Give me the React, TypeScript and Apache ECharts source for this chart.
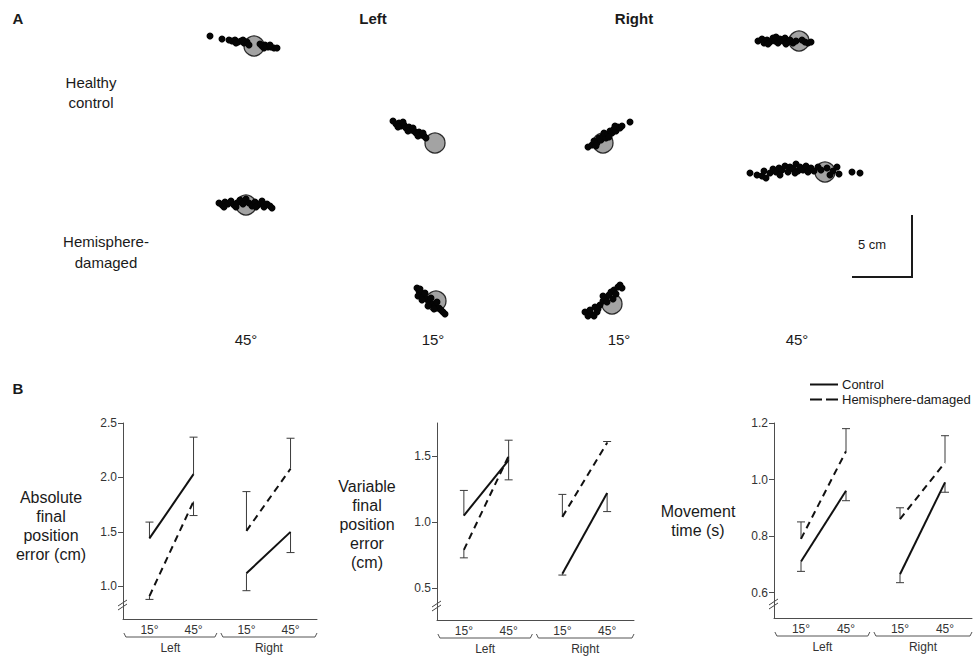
import React, { useEffect, useRef } from "react";
import * as echarts from "echarts";

const FONT = "'Liberation Sans', Arial, Helvetica, sans-serif";
const INK = "#1a1a1a";
const AXIS = "#4d4d4d";

// ---------- Panel A: reach end points (page-pixel frame) ----------
const targetCentres = [
  [254, 46], [435, 143], [603, 143], [799, 41],
  [825, 172], [246, 205], [436, 301], [612, 304],
];
const healthyLeft45 = [
  [210, 36], [222, 39], [229, 40], [232, 41], [235, 40], [238, 42], [241, 41],
  [244, 43], [247, 42], [236, 43], [243, 40], [249, 45], [262, 46], [265, 45],
  [268, 47], [271, 47], [274, 48], [277, 48], [264, 48], [270, 45], [260, 44],
];
const healthyLeft15 = [
  [393, 121], [396, 124], [399, 123], [401, 126], [404, 125], [406, 128], [409, 127],
  [411, 130], [414, 131], [416, 133], [419, 132], [421, 135], [424, 136], [426, 138],
  [403, 122], [408, 131], [413, 128], [418, 136], [423, 133], [398, 127],
];
const healthyRight15 = [
  [588, 147], [592, 145], [594, 141], [597, 143], [599, 138], [601, 140], [603, 136],
  [606, 138], [604, 133], [608, 134], [610, 131], [612, 133], [614, 129], [616, 131],
  [618, 127], [620, 128], [622, 126], [596, 146], [609, 137], [615, 126], [630, 122],
];
const healthyRight45 = [
  [758, 41], [762, 39], [764, 43], [767, 40], [770, 42], [773, 38], [775, 41],
  [778, 43], [780, 39], [783, 41], [785, 38], [788, 42], [790, 40], [793, 43],
  [796, 41], [802, 40], [805, 42], [808, 43], [811, 42], [768, 44], [776, 37], [786, 44],
];
const damagedRight45 = [
  [750, 173], [757, 175], [762, 176], [764, 171], [770, 173], [773, 169], [776, 172],
  [779, 168], [782, 170], [785, 166], [788, 172], [790, 167], [793, 169], [796, 164],
  [798, 171], [800, 167], [803, 170], [806, 166], [808, 172], [811, 168], [814, 171],
  [818, 167], [821, 170], [827, 168], [830, 175], [833, 171], [837, 167], [839, 174],
  [852, 172], [860, 173], [766, 178], [780, 175], [795, 173],
];
const damagedLeft45 = [
  [219, 203], [222, 205], [225, 202], [228, 204], [231, 201], [234, 205], [237, 203],
  [240, 200], [243, 204], [246, 199], [249, 203], [252, 206], [255, 202], [258, 205],
  [261, 203], [264, 207], [267, 204], [270, 206], [272, 208], [224, 207], [236, 207],
  [256, 207], [262, 201],
];
const damagedLeft15 = [
  [417, 288], [419, 291], [421, 294], [418, 296], [423, 297], [425, 293], [427, 299],
  [429, 302], [431, 298], [433, 304], [435, 306], [437, 302], [439, 308], [441, 310],
  [443, 312], [445, 314], [422, 300], [428, 306], [434, 309], [420, 289],
];
const damagedRight15 = [
  [585, 312], [588, 316], [591, 314], [594, 316], [597, 312], [590, 310], [595, 307],
  [600, 305], [603, 301], [606, 298], [609, 295], [603, 296], [611, 292], [614, 290],
  [616, 294], [618, 287], [620, 285], [622, 288], [613, 299], [607, 302], [598, 309],
];

// ---------- Panel B: group means and error-bar ends ----------
const conditionLabels = ["15°", "45°", "15°", "45°"];
const conditionPos = [0.6, 1.6, 2.8, 3.8];
const sideLabels = ["Left", "Right"];

const absControl = [1.44, 2.03, 1.12, 1.5];
const absControlErr = [1.59, 2.37, 0.96, 1.31];
const absDamaged = [0.91, 1.78, 1.51, 2.08];
const absDamagedErr = [0.88, 1.65, 1.87, 2.36];
const absTicks = [1.0, 1.5, 2.0, 2.5];

const varControl = [1.05, 1.47, 0.61, 1.22];
const varControlErr = [1.24, 1.62, 0.6, 1.08];
const varDamaged = [0.79, 1.5, 1.04, 1.6];
const varDamagedErr = [0.73, 1.32, 1.21, 1.61];
const varTicks = [0.5, 1.0, 1.5];

const mtControl = [0.71, 0.96, 0.665, 0.99];
const mtControlErr = [0.675, 0.925, 0.635, 0.955];
const mtDamaged = [0.79, 1.1, 0.86, 1.06];
const mtDamagedErr = [0.85, 1.18, 0.9, 1.155];
const mtTicks = [0.6, 0.8, 1.0, 1.2];

const X_MAX = 4.4;

const panels = [
  {
    left: 123, top: 423, width: 194, height: 196, min: 0.7, max: 2.5, ticks: absTicks,
    name: "Absolute\nfinal\nposition\nerror (cm)", nameX: 51, nameY: 526,
    control: absControl, controlErr: absControlErr, damaged: absDamaged, damagedErr: absDamagedErr,
  },
  {
    left: 437, top: 423, width: 197, height: 197, min: 0.26, max: 1.75, ticks: varTicks,
    name: "Variable\nfinal\nposition\nerror\n(cm)", nameX: 367, nameY: 524,
    control: varControl, controlErr: varControlErr, damaged: varDamaged, damagedErr: varDamagedErr,
  },
  {
    left: 774, top: 423, width: 198, height: 195, min: 0.51, max: 1.2, ticks: mtTicks,
    name: "Movement\ntime (s)", nameX: 698, nameY: 521,
    control: mtControl, controlErr: mtControlErr, damaged: mtDamaged, damagedErr: mtDamagedErr,
  },
];

function labelFor(v: number): string {
  for (let i = 0; i < conditionPos.length; i++) {
    if (Math.abs(conditionPos[i] - v) < 1e-6) return conditionLabels[i];
  }
  return "";
}

function text(x: number, y: number, t: string, size: number, opts: any = {}) {
  return {
    type: "text",
    x,
    y,
    silent: true,
    style: {
      text: t,
      fill: opts.fill || INK,
      fontSize: size,
      fontFamily: FONT,
      fontWeight: opts.bold ? "bold" : "normal",
      align: opts.align || "center",
      verticalAlign: "middle",
      lineHeight: opts.lineHeight || size + 4,
    },
  };
}

function line(x1: number, y1: number, x2: number, y2: number, w = 1, c = AXIS) {
  return {
    type: "line",
    silent: true,
    shape: { x1, y1, x2, y2 },
    style: { stroke: c, lineWidth: w },
  };
}

function errorBarRender(params: any, api: any) {
  const x = api.value(0);
  const v = api.value(1);
  const e = api.value(2);
  const p0 = api.coord([x, v]);
  const p1 = api.coord([x, e]);
  const st = { stroke: "#3a3a3a", lineWidth: 1 };
  return {
    type: "group",
    children: [
      { type: "line", shape: { x1: p0[0], y1: p0[1], x2: p1[0], y2: p1[1] }, style: st },
      { type: "line", shape: { x1: p1[0] - 4, y1: p1[1], x2: p1[0] + 4, y2: p1[1] }, style: st },
    ],
  };
}

const SOLID_ICON = "path://M0,0H28V2H0Z";
const DASH_ICON = "path://M0,0H12V2H0Z M16,0H28V2H16Z";

function buildOption() {
  const grids: any[] = [
    { left: 0, top: 0, width: 974, height: 660, outerBoundsMode: "none", containLabel: false },
  ];
  const xAxes: any[] = [
    { gridIndex: 0, type: "value", min: 0, max: 974, show: false },
  ];
  const yAxes: any[] = [
    { gridIndex: 0, type: "value", min: 0, max: 660, inverse: true, show: false },
  ];
  const series: any[] = [
    {
      type: "scatter",
      xAxisIndex: 0,
      yAxisIndex: 0,
      data: targetCentres,
      symbolSize: 20,
      itemStyle: { color: "#a3a3a3", borderColor: "#2b2b2b", borderWidth: 1.3, opacity: 1 },
      z: 2,
      silent: true,
    },
    {
      type: "scatter",
      xAxisIndex: 0,
      yAxisIndex: 0,
      data: [
        ...healthyLeft45, ...healthyLeft15, ...healthyRight15, ...healthyRight45,
        ...damagedRight45, ...damagedLeft45, ...damagedLeft15, ...damagedRight15,
      ],
      symbolSize: 7,
      itemStyle: { color: "#050505", opacity: 1 },
      z: 3,
      silent: true,
    },
  ];

  const graphic: any[] = [
    text(18, 18, "A", 15, { bold: true }),
    text(373, 18, "Left", 15, { bold: true }),
    text(634, 18, "Right", 15, { bold: true }),
    text(91, 92, "Healthy\ncontrol", 15, { lineHeight: 20 }),
    text(106, 252, "Hemisphere-\ndamaged", 15, { lineHeight: 21 }),
    text(246, 339, "45°", 15),
    text(433, 339, "15°", 15),
    text(619, 339, "15°", 15),
    text(797, 339, "45°", 15),
    text(872, 244, "5 cm", 13),
    {
      type: "polyline",
      silent: true,
      shape: { points: [[912, 215], [912, 277], [852, 277]] },
      style: { stroke: "#1a1a1a", lineWidth: 2, fill: null },
    },
    text(18, 388, "B", 15, { bold: true }),
  ];

  panels.forEach((p, i) => {
    const gi = i + 1;
    grids.push({
      left: p.left, top: p.top, width: p.width, height: p.height,
      outerBoundsMode: "none", containLabel: false,
    });
    xAxes.push({
      gridIndex: gi,
      type: "value",
      min: 0,
      max: X_MAX,
      axisLine: { show: true, lineStyle: { color: AXIS, width: 1 } },
      axisTick: { show: false },
      splitLine: { show: false },
      axisLabel: {
        show: true,
        customValues: conditionPos,
        formatter: (v: number) => labelFor(v),
        color: "#333",
        fontSize: 12,
        fontFamily: FONT,
        margin: 5,
      },
    });
    yAxes.push({
      gridIndex: gi,
      type: "value",
      min: p.min,
      max: p.max,
      axisLine: { show: true, lineStyle: { color: AXIS, width: 1 } },
      axisTick: { show: true, length: 5, customValues: p.ticks, lineStyle: { color: AXIS } },
      splitLine: { show: false },
      axisLabel: {
        show: true,
        customValues: p.ticks,
        formatter: (v: number) => v.toFixed(1),
        color: "#333",
        fontSize: 12,
        fontFamily: FONT,
        margin: 6,
      },
    });

    const groups = [
      { name: "Control", vals: p.control, errs: p.controlErr, type: "solid" as any },
      { name: "Hemisphere-damaged", vals: p.damaged, errs: p.damagedErr, type: [7, 5] as any },
    ];
    groups.forEach((g) => {
      [0, 2].forEach((s) => {
        series.push({
          type: "line",
          name: g.name,
          xAxisIndex: gi,
          yAxisIndex: gi,
          data: [
            [conditionPos[s], g.vals[s]],
            [conditionPos[s + 1], g.vals[s + 1]],
          ],
          symbol: "none",
          showSymbol: false,
          lineStyle: { color: "#111", width: 2, type: g.type },
          itemStyle: { color: "#111" },
          silent: true,
          z: 3,
        });
      });
      series.push({
        type: "custom",
        name: g.name + " error",
        xAxisIndex: gi,
        yAxisIndex: gi,
        renderItem: errorBarRender,
        encode: { x: 0, y: [1, 2] },
        data: g.vals.map((v, k) => [conditionPos[k], v, g.errs[k]]),
        clip: false,
        silent: true,
        z: 2,
      });
    });

    const bottom = p.top + p.height;
    const px = (v: number) => p.left + (v / X_MAX) * p.width;
    const braceY = bottom + 18;
    const spans = [
      [0.02, 2.13],
      [2.22, X_MAX],
    ];
    spans.forEach((sp, k) => {
      const a = px(sp[0]);
      const b = px(sp[1]);
      graphic.push({
        type: "polyline",
        silent: true,
        shape: { points: [[a, braceY - 4], [a + 2, braceY], [b - 2, braceY], [b, braceY - 4]] },
        style: { stroke: "#555", lineWidth: 1, fill: null },
      });
      graphic.push(text((a + b) / 2, bottom + 29, sideLabels[k], 12, { fill: "#333" }));
    });
    const by = bottom - 14;
    graphic.push(line(p.left - 5, by + 1, p.left + 4, by - 5, 1, "#444"));
    graphic.push(line(p.left - 5, by + 5, p.left + 4, by - 1, 1, "#444"));
    graphic.push(text(p.nameX, p.nameY, p.name, 16, { lineHeight: 19 }));
  });

  return {
    animation: false,
    backgroundColor: "#ffffff",
    grid: grids,
    xAxis: xAxes,
    yAxis: yAxes,
    legend: {
      data: [
        { name: "Control", icon: SOLID_ICON },
        { name: "Hemisphere-damaged", icon: DASH_ICON },
      ],
      orient: "vertical",
      left: 810,
      top: 377,
      itemWidth: 28,
      itemHeight: 2,
      itemGap: 0,
      selectedMode: false,
      padding: 0,
      itemStyle: { color: "#111" },
      textStyle: { color: INK, fontSize: 13, fontFamily: FONT, padding: [0, 0, 0, -1], lineHeight: 15 },
    },
    series,
    graphic,
  };
}

export default function App() {
  const ref = useRef<HTMLDivElement>(null);
  useEffect(() => {
    document.body.style.margin = "0";
    if (!ref.current) return;
    const chart = echarts.init(ref.current, undefined, { renderer: "svg" });
    chart.setOption(buildOption() as any);
    return () => chart.dispose();
  }, []);
  return <div ref={ref} style={{ width: 974, height: 660 }} />;
}
